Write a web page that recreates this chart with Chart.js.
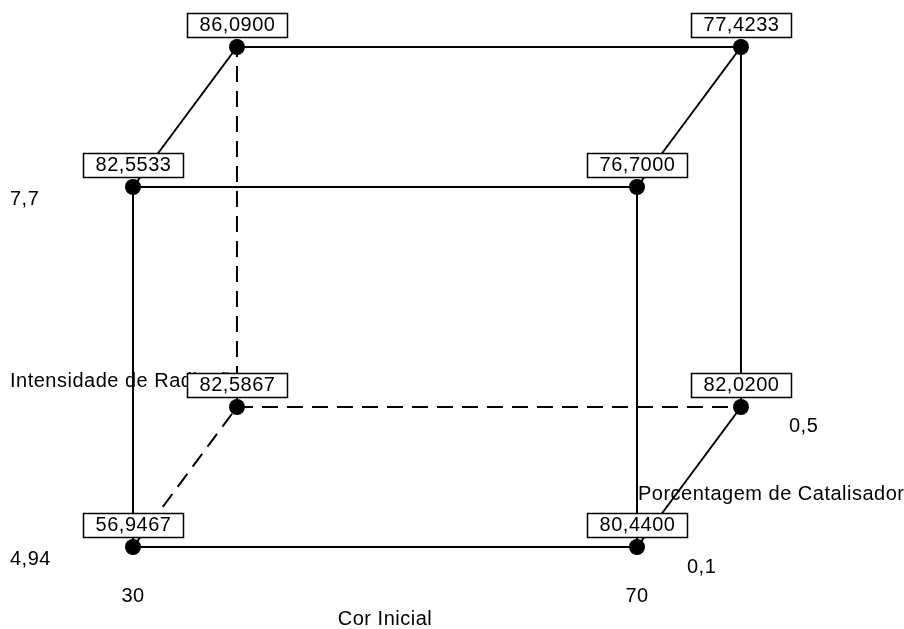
<!DOCTYPE html>
<html><head><meta charset="utf-8">
<script src="https://cdn.jsdelivr.net/npm/chart.js@4.4.0/dist/chart.umd.min.js"></script>
<style>html,body{margin:0;padding:0;background:#fff}#wrap{width:904px;height:629px}</style>
</head><body><div id="wrap"><canvas id="c" width="904" height="629"></canvas></div>
<script>
// ---- data ----
const corInicialLevels = ['30', '70'];
const intensidadeLevels = ['4,94', '7,7'];
const catalisadorLevels = ['0,1', '0,5'];
const factorNames = ['Cor Inicial', 'Intensidade de Radiação', 'Porcentagem de Catalisador'];
// cube corners (coded levels 0/1) and mean responses
const cornerCor         = [0, 1, 0, 1, 0, 1, 0, 1];
const cornerIntensidade = [0, 0, 1, 1, 0, 0, 1, 1];
const cornerCatalisador = [0, 0, 0, 0, 1, 1, 1, 1];
const responses = [56.9467, 80.4400, 82.5533, 76.7000, 82.5867, 82.0200, 86.0900, 77.4233];

// ---- projection (layout) ----
const DEPTH_X = 0.2063, DEPTH_Y = 0.3889;
const HIDDEN = 4; // back-bottom-left corner: its edges dashed
function proj(i) {
  return { x: cornerCor[i] + DEPTH_X * cornerCatalisador[i],
           y: cornerIntensidade[i] + DEPTH_Y * cornerCatalisador[i] };
}
const edges = [];
for (let i = 0; i < 8; i++) for (let j = i + 1; j < 8; j++) {
  const d = Math.abs(cornerCor[i] - cornerCor[j]) + Math.abs(cornerIntensidade[i] - cornerIntensidade[j]) + Math.abs(cornerCatalisador[i] - cornerCatalisador[j]);
  if (d === 1) edges.push([i, j]);
}
const FONT = '20px "Liberation Sans", Arial, sans-serif';
const SPACING = '0.5px';
const fmt = v => v.toFixed(4).replace('.', ',');

const datasets = [{
  label: 'pontos',
  data: responses.map((r, i) => proj(i)),
  pointRadius: 8, pointHoverRadius: 8,
  pointBackgroundColor: '#000', pointBorderColor: '#000', pointBorderWidth: 0,
  showLine: false, order: 0
}];
edges.forEach(([a, b]) => {
  const dashed = (a === HIDDEN || b === HIDDEN);
  datasets.push({
    label: 'aresta', data: [proj(a), proj(b)], showLine: true,
    borderColor: '#000', borderWidth: 2, pointRadius: 0,
    borderDash: dashed ? [16, 9] : [], order: 1
  });
});

const cubeText = {
  id: 'cubeText',
  beforeDatasetsDraw(chart) {
    const { ctx, scales: { x, y } } = chart;
    const P = i => { const q = proj(i); return { x: x.getPixelForValue(q.x), y: y.getPixelForValue(q.y) }; };
    const p0 = P(0), p1 = P(1), p2 = P(2), p5 = P(5);
    ctx.save();
    ctx.font = FONT; ctx.fillStyle = '#000'; ctx.letterSpacing = SPACING; ctx.textBaseline = 'middle';
    ctx.textAlign = 'left';
    ctx.fillText(intensidadeLevels[0], 10, p0.y + 12);
    ctx.fillText(intensidadeLevels[1], 10, p2.y + 12);
    ctx.fillText(factorNames[1], 10, (p0.y + p2.y) / 2 + 14);
    ctx.textAlign = 'center';
    ctx.fillText(corInicialLevels[0], p0.x, p0.y + 49);
    ctx.fillText(corInicialLevels[1], p1.x, p1.y + 49);
    ctx.fillText(factorNames[0], (p0.x + p1.x) / 2, p0.y + 72);
    ctx.textAlign = 'left';
    ctx.fillText(catalisadorLevels[0], p1.x + 50, p1.y + 20);
    ctx.fillText(catalisadorLevels[1], p5.x + 48, p5.y + 19);
    ctx.fillText(factorNames[2], p1.x + 1, (p1.y + p5.y) / 2 + 17);
    ctx.restore();
  },
  afterDatasetsDraw(chart) {
    const { ctx, scales: { x, y } } = chart;
    ctx.save();
    ctx.font = FONT; ctx.letterSpacing = SPACING; ctx.textBaseline = 'middle'; ctx.textAlign = 'center';
    responses.forEach((r, i) => {
      const q = proj(i);
      const px = x.getPixelForValue(q.x), py = y.getPixelForValue(q.y);
      const t = fmt(r);
      const w = 100, h = 24;
      const bx = Math.round(px - w / 2) + 0.5, by = Math.round(py - 34) + 0.5;
      ctx.fillStyle = '#fff'; ctx.fillRect(bx, by, w, h);
      ctx.strokeStyle = '#000'; ctx.lineWidth = 1.5; ctx.strokeRect(bx, by, w, h);
      ctx.fillStyle = '#000'; ctx.fillText(t, px + 0.5, py - 21.5);
    });
    ctx.restore();
  }
};

new Chart(document.getElementById('c'), {
  type: 'scatter',
  data: { datasets },
  options: {
    responsive: false, animation: false, events: [],
    layout: { padding: 0, autoPadding: false },
    plugins: { legend: { display: false }, tooltip: { enabled: false } },
    scales: {
      x: { type: 'linear', display: false, min: -133 / 504, max: (904 - 133) / 504 },
      y: { type: 'linear', display: false, min: -82 / 360, max: 547 / 360 }
    }
  },
  plugins: [cubeText]
});
</script></body></html>
